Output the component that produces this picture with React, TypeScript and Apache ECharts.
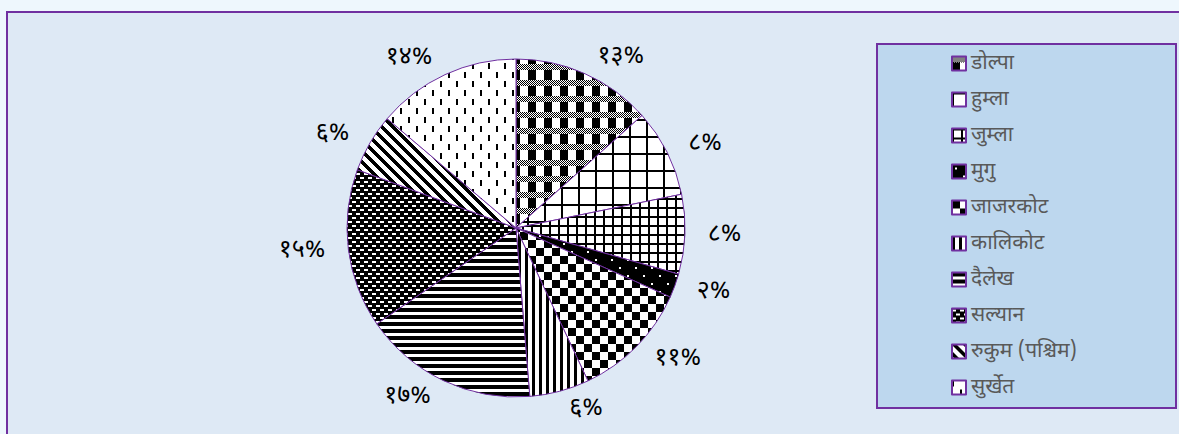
import React, { useEffect, useRef } from "react";
import * as echarts from "echarts";

const districts = [
  "डोल्पा",
  "हुम्ला",
  "जुम्ला",
  "मुगु",
  "जाजरकोट",
  "कालिकोट",
  "दैलेख",
  "सल्यान",
  "रुकुम (पश्चिम)",
  "सुर्खेत",
];
const shares = [13.4, 8.4, 7.6, 2.3, 11.3, 5.7, 16.7, 15.2, 5.6, 13.8];

const DEV_DIGITS = "०१२३४५६७८९";
const toDev = (n: number) =>
  String(n).replace(/[0-9]/g, (d) => DEV_DIGITS[Number(d)]);

const FONT = "'Noto Sans Devanagari', 'Lohit Devanagari', 'Mangal', 'Noto Sans', sans-serif";
const PURPLE = "#7030A0";

type Painter = (c: CanvasRenderingContext2D, w: number, h: number) => void;
function tile(w: number, h: number, paint: Painter) {
  const cv = document.createElement("canvas");
  cv.width = w;
  cv.height = h;
  const c = cv.getContext("2d")!;
  c.fillStyle = "#ffffff";
  c.fillRect(0, 0, w, h);
  c.fillStyle = "#000000";
  paint(c, w, h);
  return { image: cv, repeat: "repeat" } as any;
}

function makePatterns() {
  return [
    // डोल्पा: squares + dither bands
    tile(16, 16, (c) => {
      for (let y = 0; y < 6; y++)
        for (let x = 0; x < 16; x++) if ((x + y) % 2 === 0) c.fillRect(x, y, 1, 1);
      c.fillRect(0, 6, 8, 10);
    }),
    // हुम्ला: large grid
    tile(17, 17, (c) => {
      c.fillRect(0, 0, 17, 2);
      c.fillRect(0, 0, 2, 17);
    }),
    // जुम्ला: small grid
    tile(9, 9, (c) => {
      c.fillRect(0, 0, 9, 2);
      c.fillRect(0, 0, 2, 9);
    }),
    // मुगु: black with white dots
    tile(16, 16, (c) => {
      c.fillRect(0, 0, 16, 16);
      c.fillStyle = "#ffffff";
      c.fillRect(3, 3, 2, 2);
      c.fillRect(11, 11, 2, 2);
    }),
    // जाजरकोट: checkerboard
    tile(16, 16, (c) => {
      c.fillRect(0, 0, 8, 8);
      c.fillRect(8, 8, 8, 8);
    }),
    // कालिकोट: vertical stripes
    tile(7, 4, (c) => {
      c.fillRect(0, 0, 3, 4);
    }),
    // दैलेख: horizontal stripes
    tile(4, 7, (c) => {
      c.fillRect(0, 0, 4, 4);
    }),
    // सल्यान: black with white dashes
    tile(8, 8, (c) => {
      c.fillRect(0, 0, 8, 8);
      c.fillStyle = "#ffffff";
      c.fillRect(0, 1, 4, 2);
      c.fillRect(4, 5, 4, 2);
    }),
    // रुकुम: diagonal stripes
    tile(11, 11, (c) => {
      for (let y = 0; y < 11; y++)
        for (let x = 0; x < 11; x++) if ((x - y + 110) % 11 < 5) c.fillRect(x, y, 1, 1);
    }),
    // सुर्खेत: short vertical dashes
    tile(16, 18, (c) => {
      c.fillRect(0, 0, 2, 6);
      c.fillRect(8, 9, 2, 6);
    }),
  ];
}

export default function App() {
  const ref = useRef<HTMLDivElement>(null);
  useEffect(() => {
    if (!ref.current) return;
    const chart = echarts.init(ref.current, undefined, { renderer: "svg" });
    const patterns = makePatterns();
    chart.setOption({
      animation: false,
      backgroundColor: "#EEF7FD",
      graphic: [
        {
          type: "rect",
          shape: { x: 7, y: 12, width: 1200, height: 460 },
          style: { fill: "#DEE9F5", stroke: PURPLE, lineWidth: 2 },
          z: -1,
        },
        {
          type: "rect",
          shape: { x: 877, y: 44, width: 299, height: 364 },
          style: { fill: "#BDD7EE", stroke: PURPLE, lineWidth: 2 },
          z: 0,
        },
      ],
      legend: {
        orient: "vertical",
        left: 946,
        top: 48,
        itemWidth: 14,
        itemHeight: 14,
        itemGap: 15,
        icon: "rect",
        data: districts,
        textStyle: { color: "#595959", fontSize: 21, lineHeight: 20, fontFamily: FONT },
        z: 5,
      },
      series: [
        {
          type: "pie",
          center: [516, 228],
          radius: 169,
          startAngle: 90,
          clockwise: true,
          avoidLabelOverlap: false,
          z: 4,
          itemStyle: { borderColor: PURPLE, borderWidth: 1 },
          label: {
            show: true,
            position: "outside",
            fontSize: 25,
            fontFamily: FONT,
            color: "#000",
            formatter: (p: any) => toDev(Math.round(p.percent)) + "%",
          },
          labelLine: { show: false, length: 18, length2: 0 },
          emphasis: { disabled: true },
          data: districts.map((name, i) => ({
            name,
            value: shares[i],
            itemStyle: { color: patterns[i] },
          })),
        },
      ],
    });
    return () => chart.dispose();
  }, []);
  return (
    <div
      ref={ref}
      style={{ position: "absolute", left: 0, top: 0, width: 1179, height: 434 }}
    />
  );
}
